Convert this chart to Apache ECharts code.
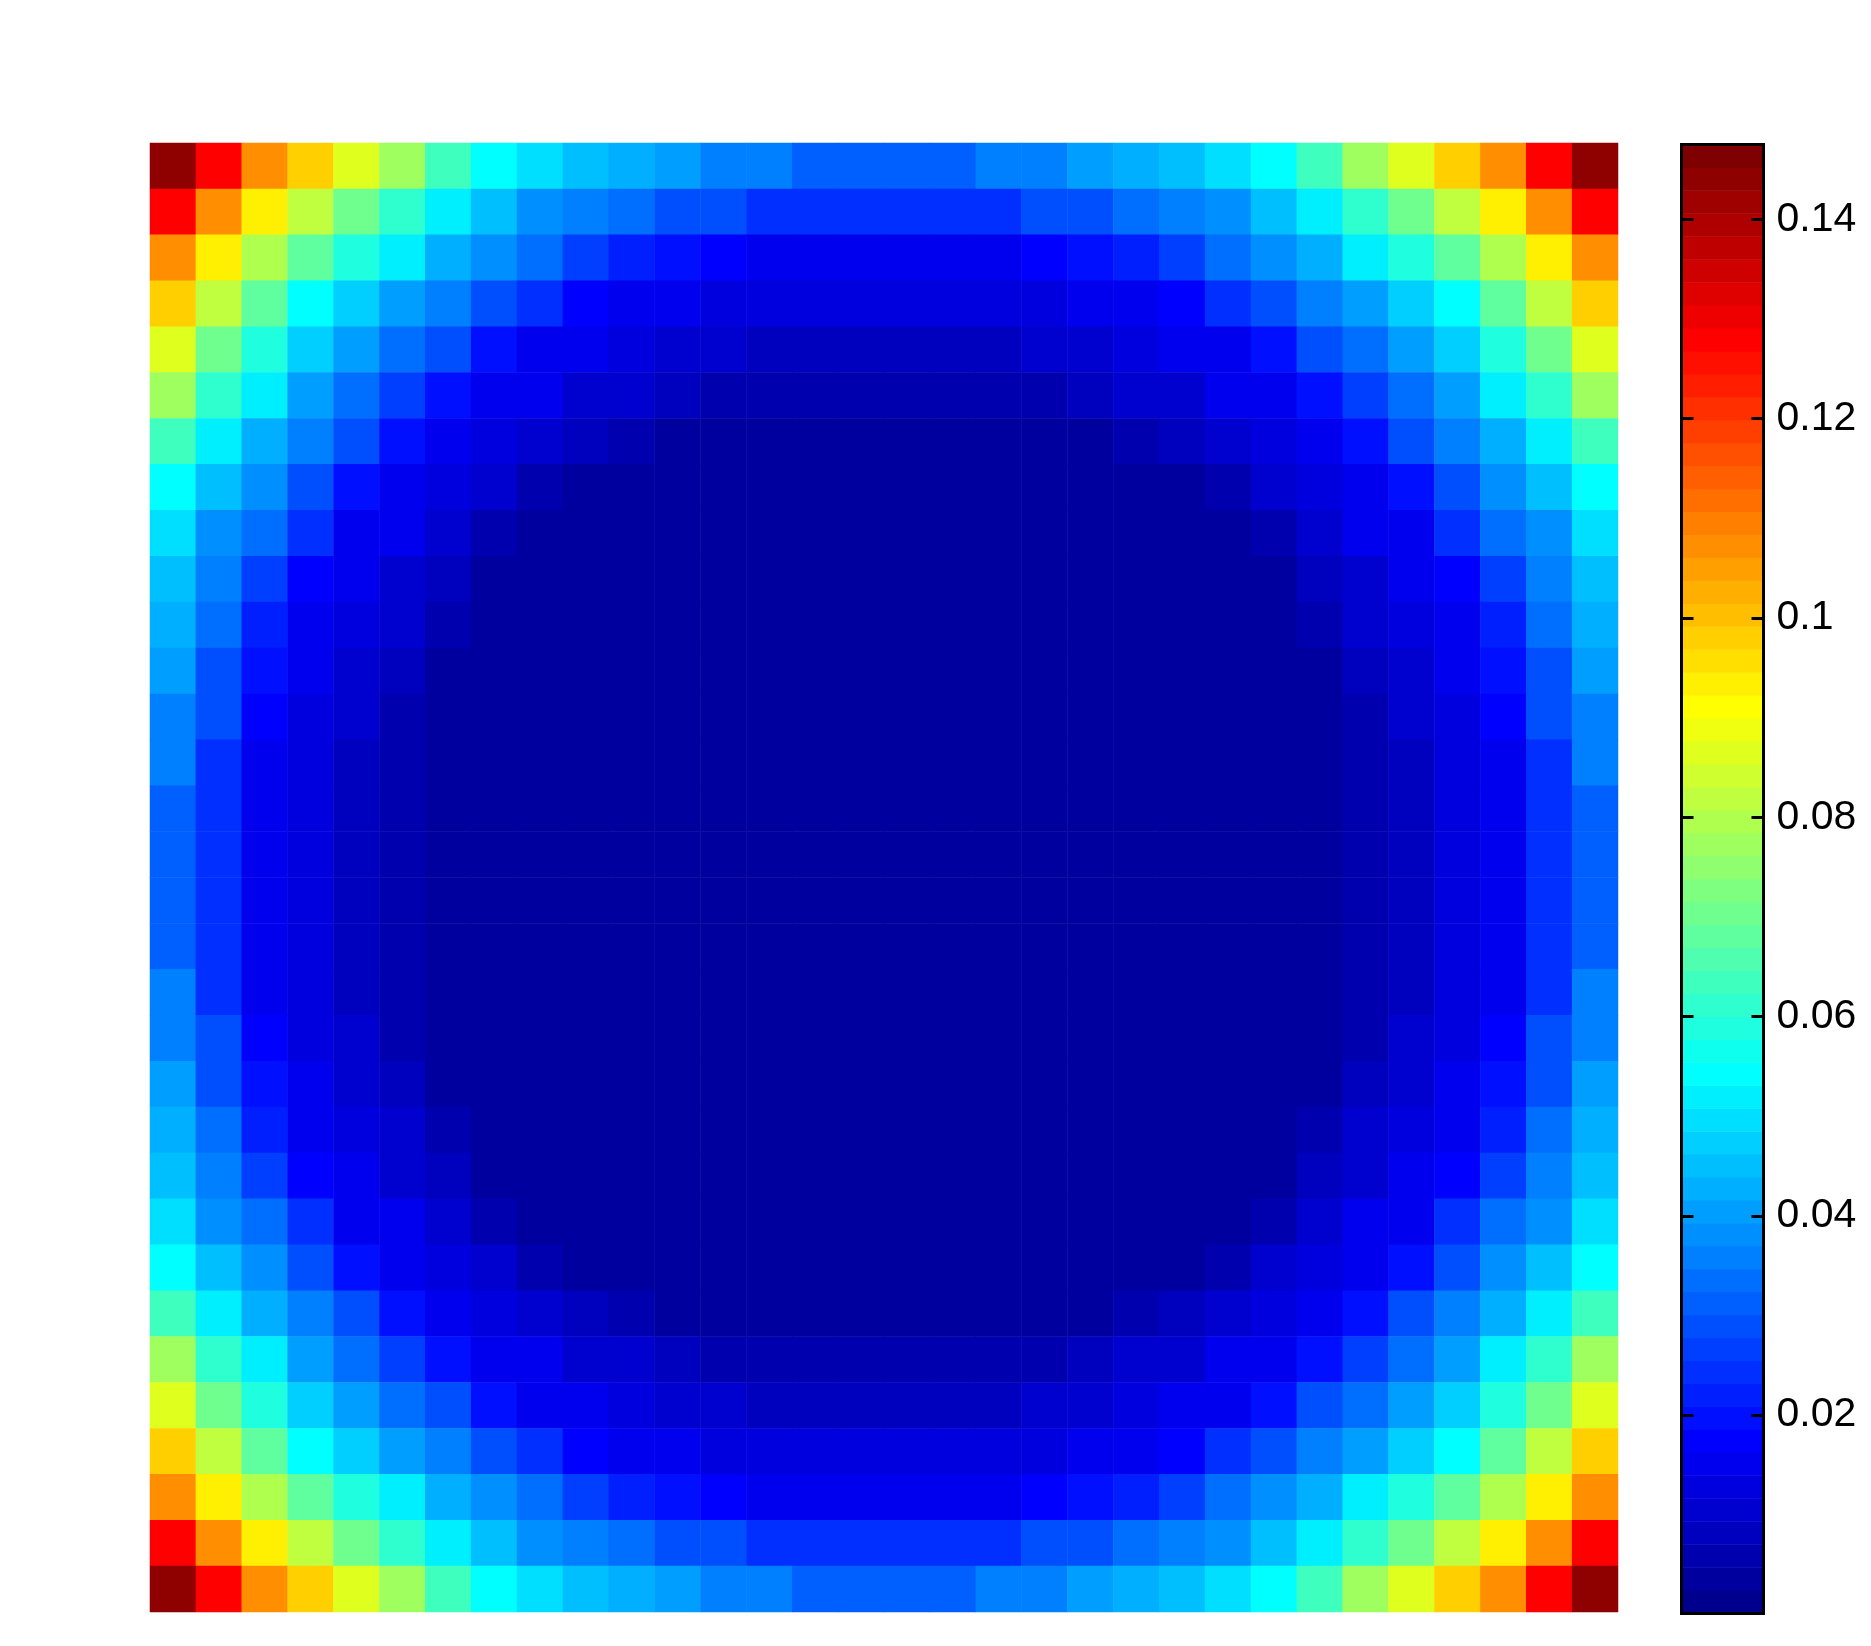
<!DOCTYPE html>
<html>
<head>
<meta charset="utf-8">
<script src="https://cdn.jsdelivr.net/npm/echarts@6/dist/echarts.min.js"></script>
<style>
html, body { margin: 0; padding: 0; background: #fff; }
#chart { width: 1871px; height: 1646px; }
</style>
</head>
<body>
<div id="chart"></div>
<script>
// values, row 1 is the top row
var cellValues = [
[.1440,.1279,.1072,.0979,.0864,.0772,.0634,.0542,.0496,.0449,.0426,.0403,.0357,.0357,.0311,.0311,.0311,.0311,.0357,.0357,.0403,.0426,.0449,.0496,.0542,.0634,.0772,.0864,.0979,.1072,.1279,.1440],
[.1279,.1072,.0933,.0818,.0703,.0611,.0519,.0449,.0380,.0357,.0334,.0288,.0288,.0242,.0242,.0242,.0242,.0242,.0242,.0288,.0288,.0334,.0357,.0380,.0449,.0519,.0611,.0703,.0818,.0933,.1072,.1279],
[.1072,.0933,.0795,.0680,.0588,.0519,.0426,.0380,.0334,.0265,.0219,.0196,.0173,.0150,.0150,.0150,.0150,.0150,.0150,.0173,.0196,.0219,.0265,.0334,.0380,.0426,.0519,.0588,.0680,.0795,.0933,.1072],
[.0979,.0818,.0680,.0542,.0472,.0403,.0357,.0288,.0242,.0173,.0150,.0150,.0127,.0127,.0127,.0127,.0127,.0127,.0127,.0127,.0150,.0150,.0173,.0242,.0288,.0357,.0403,.0472,.0542,.0680,.0818,.0979],
[.0864,.0703,.0588,.0472,.0403,.0334,.0288,.0196,.0150,.0150,.0127,.0104,.0104,.0081,.0081,.0081,.0081,.0081,.0081,.0104,.0104,.0127,.0150,.0150,.0196,.0288,.0334,.0403,.0472,.0588,.0703,.0864],
[.0772,.0611,.0519,.0403,.0334,.0265,.0196,.0150,.0150,.0104,.0104,.0081,.0058,.0058,.0058,.0058,.0058,.0058,.0058,.0058,.0081,.0104,.0104,.0150,.0150,.0196,.0265,.0334,.0403,.0519,.0611,.0772],
[.0634,.0519,.0426,.0357,.0288,.0196,.0150,.0127,.0104,.0081,.0058,.0035,.0035,.0035,.0035,.0035,.0035,.0035,.0035,.0035,.0035,.0058,.0081,.0104,.0127,.0150,.0196,.0288,.0357,.0426,.0519,.0634],
[.0542,.0449,.0380,.0288,.0196,.0150,.0127,.0104,.0058,.0035,.0035,.0035,.0035,.0035,.0035,.0035,.0035,.0035,.0035,.0035,.0035,.0035,.0035,.0058,.0104,.0127,.0150,.0196,.0288,.0380,.0449,.0542],
[.0496,.0380,.0334,.0242,.0150,.0150,.0104,.0058,.0035,.0035,.0035,.0035,.0035,.0035,.0035,.0035,.0035,.0035,.0035,.0035,.0035,.0035,.0035,.0035,.0058,.0104,.0150,.0150,.0242,.0334,.0380,.0496],
[.0449,.0357,.0265,.0173,.0150,.0104,.0081,.0035,.0035,.0035,.0035,.0035,.0035,.0035,.0035,.0035,.0035,.0035,.0035,.0035,.0035,.0035,.0035,.0035,.0035,.0081,.0104,.0150,.0173,.0265,.0357,.0449],
[.0426,.0334,.0219,.0150,.0127,.0104,.0058,.0035,.0035,.0035,.0035,.0035,.0035,.0035,.0035,.0035,.0035,.0035,.0035,.0035,.0035,.0035,.0035,.0035,.0035,.0058,.0104,.0127,.0150,.0219,.0334,.0426],
[.0403,.0288,.0196,.0150,.0104,.0081,.0035,.0035,.0035,.0035,.0035,.0035,.0035,.0035,.0035,.0035,.0035,.0035,.0035,.0035,.0035,.0035,.0035,.0035,.0035,.0035,.0081,.0104,.0150,.0196,.0288,.0403],
[.0357,.0288,.0173,.0127,.0104,.0058,.0035,.0035,.0035,.0035,.0035,.0035,.0035,.0035,.0035,.0035,.0035,.0035,.0035,.0035,.0035,.0035,.0035,.0035,.0035,.0035,.0058,.0104,.0127,.0173,.0288,.0357],
[.0357,.0242,.0150,.0127,.0081,.0058,.0035,.0035,.0035,.0035,.0035,.0035,.0035,.0035,.0035,.0035,.0035,.0035,.0035,.0035,.0035,.0035,.0035,.0035,.0035,.0035,.0058,.0081,.0127,.0150,.0242,.0357],
[.0311,.0242,.0150,.0127,.0081,.0058,.0035,.0035,.0035,.0035,.0035,.0035,.0035,.0035,.0035,.0035,.0035,.0035,.0035,.0035,.0035,.0035,.0035,.0035,.0035,.0035,.0058,.0081,.0127,.0150,.0242,.0311],
[.0311,.0242,.0150,.0127,.0081,.0058,.0035,.0035,.0035,.0035,.0035,.0035,.0035,.0035,.0035,.0035,.0035,.0035,.0035,.0035,.0035,.0035,.0035,.0035,.0035,.0035,.0058,.0081,.0127,.0150,.0242,.0311],
[.0311,.0242,.0150,.0127,.0081,.0058,.0035,.0035,.0035,.0035,.0035,.0035,.0035,.0035,.0035,.0035,.0035,.0035,.0035,.0035,.0035,.0035,.0035,.0035,.0035,.0035,.0058,.0081,.0127,.0150,.0242,.0311],
[.0311,.0242,.0150,.0127,.0081,.0058,.0035,.0035,.0035,.0035,.0035,.0035,.0035,.0035,.0035,.0035,.0035,.0035,.0035,.0035,.0035,.0035,.0035,.0035,.0035,.0035,.0058,.0081,.0127,.0150,.0242,.0311],
[.0357,.0242,.0150,.0127,.0081,.0058,.0035,.0035,.0035,.0035,.0035,.0035,.0035,.0035,.0035,.0035,.0035,.0035,.0035,.0035,.0035,.0035,.0035,.0035,.0035,.0035,.0058,.0081,.0127,.0150,.0242,.0357],
[.0357,.0288,.0173,.0127,.0104,.0058,.0035,.0035,.0035,.0035,.0035,.0035,.0035,.0035,.0035,.0035,.0035,.0035,.0035,.0035,.0035,.0035,.0035,.0035,.0035,.0035,.0058,.0104,.0127,.0173,.0288,.0357],
[.0403,.0288,.0196,.0150,.0104,.0081,.0035,.0035,.0035,.0035,.0035,.0035,.0035,.0035,.0035,.0035,.0035,.0035,.0035,.0035,.0035,.0035,.0035,.0035,.0035,.0035,.0081,.0104,.0150,.0196,.0288,.0403],
[.0426,.0334,.0219,.0150,.0127,.0104,.0058,.0035,.0035,.0035,.0035,.0035,.0035,.0035,.0035,.0035,.0035,.0035,.0035,.0035,.0035,.0035,.0035,.0035,.0035,.0058,.0104,.0127,.0150,.0219,.0334,.0426],
[.0449,.0357,.0265,.0173,.0150,.0104,.0081,.0035,.0035,.0035,.0035,.0035,.0035,.0035,.0035,.0035,.0035,.0035,.0035,.0035,.0035,.0035,.0035,.0035,.0035,.0081,.0104,.0150,.0173,.0265,.0357,.0449],
[.0496,.0380,.0334,.0242,.0150,.0150,.0104,.0058,.0035,.0035,.0035,.0035,.0035,.0035,.0035,.0035,.0035,.0035,.0035,.0035,.0035,.0035,.0035,.0035,.0058,.0104,.0150,.0150,.0242,.0334,.0380,.0496],
[.0542,.0449,.0380,.0288,.0196,.0150,.0127,.0104,.0058,.0035,.0035,.0035,.0035,.0035,.0035,.0035,.0035,.0035,.0035,.0035,.0035,.0035,.0035,.0058,.0104,.0127,.0150,.0196,.0288,.0380,.0449,.0542],
[.0634,.0519,.0426,.0357,.0288,.0196,.0150,.0127,.0104,.0081,.0058,.0035,.0035,.0035,.0035,.0035,.0035,.0035,.0035,.0035,.0035,.0058,.0081,.0104,.0127,.0150,.0196,.0288,.0357,.0426,.0519,.0634],
[.0772,.0611,.0519,.0403,.0334,.0265,.0196,.0150,.0150,.0104,.0104,.0081,.0058,.0058,.0058,.0058,.0058,.0058,.0058,.0058,.0081,.0104,.0104,.0150,.0150,.0196,.0265,.0334,.0403,.0519,.0611,.0772],
[.0864,.0703,.0588,.0472,.0403,.0334,.0288,.0196,.0150,.0150,.0127,.0104,.0104,.0081,.0081,.0081,.0081,.0081,.0081,.0104,.0104,.0127,.0150,.0150,.0196,.0288,.0334,.0403,.0472,.0588,.0703,.0864],
[.0979,.0818,.0680,.0542,.0472,.0403,.0357,.0288,.0242,.0173,.0150,.0150,.0127,.0127,.0127,.0127,.0127,.0127,.0127,.0127,.0150,.0150,.0173,.0242,.0288,.0357,.0403,.0472,.0542,.0680,.0818,.0979],
[.1072,.0933,.0795,.0680,.0588,.0519,.0426,.0380,.0334,.0265,.0219,.0196,.0173,.0150,.0150,.0150,.0150,.0150,.0150,.0173,.0196,.0219,.0265,.0334,.0380,.0426,.0519,.0588,.0680,.0795,.0933,.1072],
[.1279,.1072,.0933,.0818,.0703,.0611,.0519,.0449,.0380,.0357,.0334,.0288,.0288,.0242,.0242,.0242,.0242,.0242,.0242,.0288,.0288,.0334,.0357,.0380,.0449,.0519,.0611,.0703,.0818,.0933,.1072,.1279],
[.1440,.1279,.1072,.0979,.0864,.0772,.0634,.0542,.0496,.0449,.0426,.0403,.0357,.0357,.0311,.0311,.0311,.0311,.0357,.0357,.0403,.0426,.0449,.0496,.0542,.0634,.0772,.0864,.0979,.1072,.1279,.1440]
];

// jet colormap, 64 levels, bottom to top
var jetColors = [
'#00008f','#00009f','#0000af','#0000bf','#0000cf','#0000df','#0000ef','#0000ff',
'#000fff','#001fff','#002fff','#003fff','#004fff','#005fff','#006fff','#007fff',
'#008fff','#009fff','#00afff','#00bfff','#00cfff','#00dfff','#00efff','#00ffff',
'#0fffef','#1fffdf','#2fffcf','#3fffbf','#4fffaf','#5fff9f','#6fff8f','#7fff7f',
'#8fff6f','#9fff5f','#afff4f','#bfff3f','#cfff2f','#dfff1f','#efff0f','#ffff00',
'#ffef00','#ffdf00','#ffcf00','#ffbf00','#ffaf00','#ff9f00','#ff8f00','#ff7f00',
'#ff6f00','#ff5f00','#ff4f00','#ff3f00','#ff2f00','#ff1f00','#ff0f00','#ff0000',
'#ef0000','#df0000','#cf0000','#bf0000','#af0000','#9f0000','#8f0000','#7f0000'
];
var levelValues = [
.0012,.0035,.0058,.0081,.0104,.0127,.0150,.0173,.0196,.0219,.0242,.0265,.0288,.0311,.0334,.0357,
.0380,.0403,.0426,.0449,.0472,.0496,.0519,.0542,.0565,.0588,.0611,.0634,.0657,.0680,.0703,.0726,
.0749,.0772,.0795,.0818,.0841,.0864,.0887,.0910,.0933,.0956,.0979,.1003,.1025,.1049,.1072,.1095,
.1118,.1141,.1164,.1187,.1210,.1233,.1256,.1279,.1302,.1325,.1348,.1371,.1394,.1417,.1440,.1463
];
var tickValues = [0.02, 0.04, 0.06, 0.08, 0.1, 0.12, 0.14];
var barMin = 0.0001;
var barMax = 0.1475;

var chart = echarts.init(document.getElementById('chart'));

// heatmap data
var cellData = [];
for (var r = 0; r < cellValues.length; r++) {
    for (var c = 0; c < cellValues[r].length; c++) {
        cellData.push([c, r, cellValues[r][c]]);
    }
}
var barData = levelValues.map(function (v, i) { return [0, i, v]; });

// one piece per colormap level
var step = barMax / jetColors.length;
var pieces = jetColors.map(function (col, i) {
    return { min: i * step, max: (i + 1) * step, color: col };
});

var axisLine = { show: true, onZero: false, lineStyle: { color: '#000', width: 3, cap: 'square' } };
var barTick = {
    show: true, inside: true, length: 12, customValues: tickValues,
    lineStyle: { color: '#000', width: 3 }
};

chart.setOption({
    animation: false,
    backgroundColor: '#fff',
    grid: [
        { left: 150, top: 143, width: 1468, height: 1469 },
        { left: 1681.5, top: 144.7, width: 82, height: 1468.6 }
    ],
    xAxis: [
        { type: 'category', gridIndex: 0, show: false, data: cellValues[0].map(function (v, i) { return i; }) },
        { type: 'category', gridIndex: 1, position: 'bottom', data: ['bar'], z: 5,
          axisLine: axisLine, axisTick: { show: false }, axisLabel: { show: false } },
        { type: 'category', gridIndex: 1, position: 'top', data: ['bar'], z: 5,
          axisLine: axisLine, axisTick: { show: false }, axisLabel: { show: false } }
    ],
    yAxis: [
        { type: 'category', gridIndex: 0, show: false, inverse: true, data: cellValues.map(function (v, i) { return i; }) },
        { type: 'category', gridIndex: 1, show: false, data: levelValues },
        { type: 'value', gridIndex: 1, position: 'left', min: barMin, max: barMax, z: 5,
          axisLine: axisLine, axisTick: barTick, axisLabel: { show: false }, splitLine: { show: false } },
        { type: 'value', gridIndex: 1, position: 'right', min: barMin, max: barMax, z: 5,
          axisLine: axisLine, axisTick: barTick, splitLine: { show: false },
          axisLabel: {
              show: true, margin: 12, customValues: tickValues, padding: [14, 0, 0, 1],
              color: '#000', fontFamily: 'Liberation Sans', fontSize: 41,
              formatter: function (v) { return String(+v.toFixed(2)); }
          } }
    ],
    visualMap: {
        type: 'piecewise', show: false, seriesIndex: [0, 1], dimension: 2, pieces: pieces
    },
    series: [
        { type: 'heatmap', xAxisIndex: 0, yAxisIndex: 0, data: cellData, progressive: 0, emphasis: { disabled: true } },
        { type: 'heatmap', xAxisIndex: 1, yAxisIndex: 1, data: barData, progressive: 0, emphasis: { disabled: true } }
    ]
});
</script>
</body>
</html>
